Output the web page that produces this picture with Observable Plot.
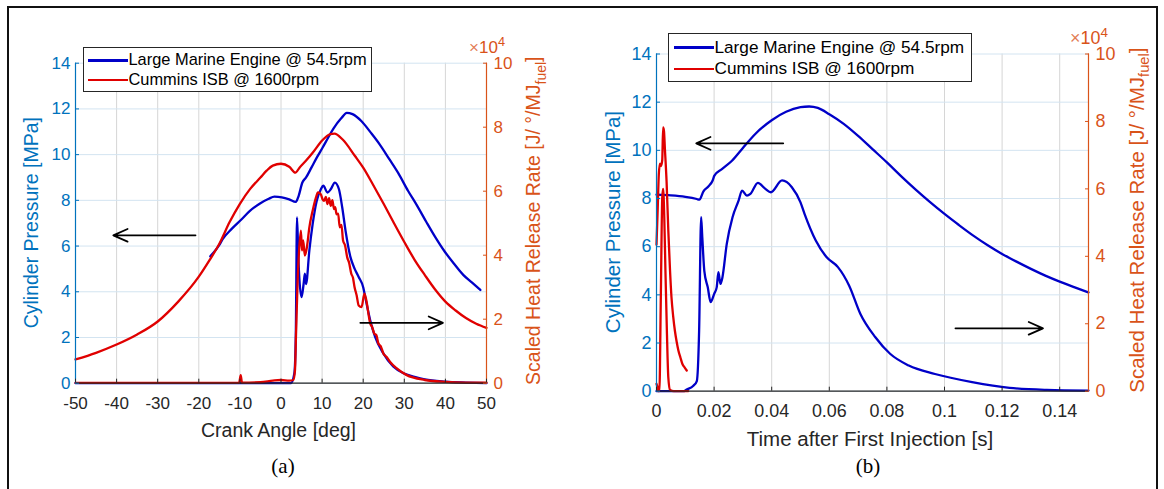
<!DOCTYPE html>
<html>
<head>
<meta charset="utf-8">
<script src="https://cdn.jsdelivr.net/npm/d3@7"></script>
<script src="https://cdn.jsdelivr.net/npm/@observablehq/plot@0.6"></script>
<style>
  html,body{margin:0;padding:0;background:#fff;}
  #wrap{position:relative;width:1164px;height:489px;overflow:hidden;background:#fff;font-family:"Liberation Sans",Arial,Helvetica,sans-serif;}
  #border{position:absolute;left:7px;top:6px;width:1151px;height:540px;border:2px solid #111;box-sizing:border-box;}
  .panel{position:absolute;top:0;}
  .panel svg{display:block;}
  .legend{position:absolute;background:#fff;border:1.5px solid #262626;box-sizing:border-box;color:#000;white-space:nowrap;}
  .legend .row{position:absolute;left:0;height:0;}
  .legend .sw{position:absolute;height:2.6px;top:-1.3px;}
  .legend .lab{position:absolute;top:0;transform:translateY(-52%);line-height:1;}
</style>
</head>
<body>
<div id="wrap"><div id="border"></div></div>
<script>
// ---------------- data ----------------
const seriesNames = ["Large Marine Engine @ 54.5rpm", "Cummins ISB @ 1600rpm"];
const seriesColors = ["#0000c8", "#e00000"];

const crankTicks = [-50, -40, -30, -20, -10, 0, 10, 20, 30, 40, 50];
const timeTicks = [0, 0.02, 0.04, 0.06, 0.08, 0.1, 0.12, 0.14];
const pressureTicks = [0, 2, 4, 6, 8, 10, 12, 14];
const hrrTicks = [0, 2, 4, 6, 8, 10];          // x10^4 J/deg/MJ_fuel
const hrrToMPa = 14 / 10;                      // right axis range mapped onto left axis range

// (a) crank angle [deg] vs pressure [MPa]
const a_marineP = [[-17.2,5.55],[-15,6.05],[-14.2,6.3],[-12,6.75],[-9.7,7.15],[-7.5,7.55],[-5.2,7.85],[-3,8.07],[-1.6,8.16],[0.2,8.13],[2.0,8.04],[3.6,7.93],[4.3,8.2],[5.2,8.78],[6.1,9.0],[7.4,9.43],[8.8,9.9],[10.1,10.3],[11.5,10.75],[12.8,11.15],[14.7,11.6],[16.0,11.83],[17.4,11.77],[19.6,11.46],[21.9,10.95],[24,10.45],[26.4,9.79],[28.5,9.2],[30.9,8.42],[33,7.8],[35.4,7.04],[37.5,6.4],[39.9,5.74],[42,5.25],[44.4,4.73],[46.5,4.4],[48.5,4.08]];
const a_cumminsP = [[-50,1.04],[-45,1.33],[-40,1.69],[-35,2.13],[-30,2.7],[-25,3.57],[-20,4.66],[-17.5,5.35],[-15,6.1],[-12.5,7.05],[-10,7.85],[-7.5,8.5],[-5,9.0],[-3.5,9.3],[-2,9.52],[0,9.6],[2,9.47],[3.5,9.21],[4.5,9.43],[6,9.72],[8,10.15],[10,10.62],[12,10.9],[13,10.92],[15,10.66],[18,9.94],[20,9.43],[22.5,8.65],[25,7.84],[27.5,7.0],[30,6.18],[32.5,5.4],[35,4.73],[37.5,4.1],[40,3.57],[42.5,3.18],[45,2.85],[47.5,2.6],[50,2.42]];
// (a) crank angle [deg] vs heat release rate [x10^4]
const a_marineHRR = [[-50,0],[2.4,0],[3.25,0.31],[3.6,1.5],[3.9,5.18],[4.2,4.0],[4.5,3.21],[5.0,2.69],[5.5,3.1],[5.8,3.42],[6.1,3.1],[6.9,4.15],[7.7,4.97],[8.7,5.7],[9.7,6.06],[10.3,6.17],[11.3,5.96],[12.1,6.06],[13.1,6.27],[14.1,6.06],[14.9,5.49],[15.7,4.77],[16.9,3.94],[17.9,3.58],[18.9,3.32],[20,3.0],[20.5,2.69],[21.7,1.97],[22.9,1.45],[24.9,0.93],[27.3,0.52],[29.8,0.31],[32.5,0.2],[35,0.12],[40,0.05],[45,0.02],[50,0]];
const a_cumminsHRR = [[-50,0.01],[-10.2,0.01],[-9.8,0.25],[-9.5,0.02],[-5,0.03],[-2,0.08],[0,0.1],[2,0.08],[3.0,0.1],[3.4,0.4],[3.65,1.5],[4.05,3.21],[4.45,4.25],[4.85,4.77],[5.1,4.15],[5.4,4.46],[5.8,3.99],[6.3,4.25],[6.9,4.87],[7.7,5.39],[8.5,5.8],[9.0,5.96],[9.7,5.9],[10.1,5.75],[10.5,5.7],[10.9,5.82],[11.3,5.6],[11.7,5.78],[12.1,5.54],[12.5,5.72],[12.9,5.44],[13.2,5.5],[13.5,5.28],[13.9,5.3],[14.3,4.87],[14.7,4.95],[15.1,4.46],[15.6,4.3],[16.1,3.94],[16.6,3.75],[17.1,3.42],[17.5,3.3],[17.9,3.0],[18.4,2.75],[18.9,2.43],[19.6,2.38],[20.3,2.8],[20.9,2.49],[21.3,2.15],[21.7,1.87],[22.2,1.75],[22.7,1.55],[23.2,1.5],[23.7,1.24],[24.3,1.15],[24.9,0.93],[25.7,0.82],[26.5,0.67],[28.1,0.47],[30.5,0.26],[35,0.1],[40,0.04],[45,0.02],[50,0.02]];

// (b) time after first injection [s] vs pressure [MPa]
const b_marineP = [[0,8.16],[0.005,8.13],[0.01,8.07],[0.014,7.98],[0.0149,7.95],[0.0163,8.3],[0.018,8.5],[0.0195,8.75],[0.0201,8.95],[0.0227,9.22],[0.0262,9.57],[0.03,10.1],[0.0343,10.68],[0.04,11.25],[0.045,11.6],[0.05,11.79],[0.053,11.82],[0.056,11.76],[0.06,11.5],[0.065,11.1],[0.07,10.6],[0.075,10.05],[0.08,9.5],[0.085,8.92],[0.09,8.37],[0.095,7.85],[0.1,7.36],[0.105,6.9],[0.11,6.46],[0.115,6.06],[0.12,5.7],[0.125,5.38],[0.13,5.08],[0.135,4.8],[0.14,4.55],[0.145,4.32],[0.15,4.1]];
const b_cumminsP = [[0,6.08],[0.0004,7.5],[0.0008,9.0],[0.0012,9.45],[0.0016,9.35],[0.002,9.6],[0.0023,10.95],[0.0026,10.8],[0.0029,10.1],[0.0035,8.7],[0.0041,6.67],[0.0047,5.0],[0.0052,3.9],[0.0058,3.1],[0.0064,2.5],[0.007,2.05],[0.0076,1.69],[0.0083,1.4],[0.009,1.13],[0.0098,0.98],[0.0105,0.86]];
// (b) time [s] vs heat release rate [x10^4]
const b_marineHRR = [[0,0],[0.0093,0],[0.0105,0.05],[0.0128,0.16],[0.014,0.3],[0.0148,1.8],[0.0155,5.16],[0.0159,4.56],[0.0166,3.57],[0.0178,3.08],[0.0188,2.64],[0.02,2.88],[0.0209,3.08],[0.0215,3.53],[0.0222,3.18],[0.0229,3.38],[0.0244,4.37],[0.0264,5.16],[0.0285,5.65],[0.0297,5.95],[0.0314,5.8],[0.0326,5.85],[0.0352,6.18],[0.0378,6.0],[0.0397,5.9],[0.0436,6.25],[0.047,6.05],[0.05,5.6],[0.0514,5.26],[0.0553,4.47],[0.0591,3.97],[0.063,3.68],[0.0669,3.13],[0.0708,2.29],[0.076,1.6],[0.0811,1.11],[0.0876,0.76],[0.0967,0.51],[0.1096,0.27],[0.1226,0.1],[0.1355,0.04],[0.15,0.02]];
const b_cumminsHRR = [[0,0.22],[0.0004,0.1],[0.0006,0],[0.001,0],[0.0015,2.79],[0.002,5.75],[0.0023,6.0],[0.0027,5.16],[0.0031,3.58],[0.0036,1.8],[0.0041,0.41],[0.0047,0.04],[0.006,0],[0.011,0]];

// arrows [x1, y1(MPa), x2, y2(MPa)]
const a_arrows = [[-20.8,6.47,-40.8,6.47],[19.3,2.64,39.4,2.64]];
const b_arrows = [[0.044,10.29,0.0138,10.29],[0.1038,2.61,0.1342,2.61]];

const xTitles = ["Crank Angle [deg]", "Time after First Injection [s]"];
const panelTags = ["(a)", "(b)"];
const yTitleLeft = "Cylinder Pressure [MPa]";
const yTitleRight = ["Scaled Heat Release Rate [J/ °/MJ", "fuel", "]"];
const expLabel = ["×", "10", "4"];

// ---------------- drawing ----------------
const FONT = '"Liberation Sans", Arial, Helvetica, sans-serif';
const BLUE_AX = "#0072BD", ORANGE_AX = "#D95319", DARK = "#262626";
const wrap = document.getElementById("wrap");

function drawPanel(c) {
  const px = d => d[0];
  const marks = [
    Plot.gridX(c.xTicks, {stroke: "#d6d6d6", strokeOpacity: 1, strokeWidth: 1}),
    Plot.gridY(pressureTicks, {stroke: "#d3e4f1", strokeOpacity: 1, strokeWidth: 1}),
    Plot.line(c.pM, {x: px, y: d => d[1], stroke: seriesColors[0], strokeWidth: 2.3, curve: "monotone-x"}),
    Plot.line(c.pC, {x: px, y: d => d[1], stroke: seriesColors[1], strokeWidth: 2.3, curve: "monotone-x"}),
    Plot.line(c.hM, {x: px, y: d => d[1] * hrrToMPa, stroke: seriesColors[0], strokeWidth: 2.3, curve: "monotone-x"}),
    Plot.line(c.hC, {x: px, y: d => d[1] * hrrToMPa, stroke: seriesColors[1], strokeWidth: 2.3, curve: "monotone-x"}),
    Plot.arrow(c.arrows, {x1: d => d[0], y1: d => d[1], x2: d => d[2], y2: d => d[3], stroke: "#000", strokeWidth: 1.8, headLength: 13, headAngle: 48}),
    // axis lines
    Plot.ruleX([c.xDomain[0]], {stroke: BLUE_AX, strokeWidth: 1.2}),
    Plot.ruleX([c.xDomain[1]], {stroke: ORANGE_AX, strokeWidth: 1.2}),
    Plot.ruleY([0], {stroke: DARK, strokeWidth: 1.2}),
    // x axis
    Plot.axisX(c.xTicks, {tickSize: 0, tickPadding: c.xPad, color: DARK, fontSize: c.fsTick, tickFormat: c.xFmt, label: null}),
    Plot.axisX(c.xTicks, {tickSize: 4, dy: -4, fill: "none", stroke: DARK, label: null}),
    // left y axis
    Plot.axisY(pressureTicks, {anchor: "left", tickSize: 0, tickPadding: 5, color: BLUE_AX, fontSize: c.fsTick, tickFormat: d => String(d), label: null}),
    Plot.axisY(pressureTicks, {anchor: "left", tickSize: 4, dx: 4, fill: "none", stroke: BLUE_AX, label: null}),
    // right y axis
    Plot.axisY(hrrTicks.map(v => v * hrrToMPa), {anchor: "right", tickSize: 0, tickPadding: 7, color: ORANGE_AX, fontSize: c.fsTick, tickFormat: d => String(Math.round(d / hrrToMPa)), label: null}),
    Plot.axisY(hrrTicks.map(v => v * hrrToMPa), {anchor: "right", tickSize: 4, dx: -4, fill: "none", stroke: ORANGE_AX, label: null})
  ];
  const plot = Plot.plot({
    width: c.width, height: c.height,
    marginTop: c.mt, marginRight: c.mr, marginBottom: c.mb, marginLeft: c.ml,
    style: {fontFamily: FONT, background: "transparent", overflow: "visible"},
    x: {type: "linear", domain: c.xDomain},
    y: {type: "linear", domain: [0, 14]},
    marks
  });
  const div = document.createElement("div");
  div.className = "panel";
  div.style.left = c.left + "px";
  div.appendChild(plot);
  wrap.appendChild(div);

  const xr = plot.scale("x").range, yr = plot.scale("y").range;
  const fx0 = Math.min(...xr), fx1 = Math.max(...xr), fy0 = Math.min(...yr), fy1 = Math.max(...yr);
  const svg = d3.select(plot);
  // left title
  svg.append("text")
    .attr("transform", `translate(${fx0 - c.lOff},${(fy0 + fy1) / 2}) rotate(-90)`)
    .attr("text-anchor", "middle").attr("dominant-baseline", "central")
    .attr("fill", BLUE_AX).attr("font-size", c.fsTitle).attr("font-family", FONT)
    .text(yTitleLeft);
  // right title
  const rt = svg.append("text")
    .attr("transform", `translate(${fx1 + c.rOff},${(fy0 + fy1) / 2 - 2}) rotate(-90)`)
    .attr("text-anchor", "middle").attr("dominant-baseline", "central")
    .attr("fill", ORANGE_AX).attr("font-size", c.fsTitle).attr("font-family", FONT);
  rt.append("tspan").text(yTitleRight[0]);
  rt.append("tspan").attr("baseline-shift", "sub").attr("font-size", c.fsTitle * 0.72).text(yTitleRight[1]);
  rt.append("tspan").text(yTitleRight[2]);
  // exponent label
  const ex = svg.append("text")
    .attr("x", fx1 + 1).attr("y", fy0 - 9.5)
    .attr("fill", ORANGE_AX).attr("font-size", c.fsTick).attr("font-family", FONT);
  ex.append("tspan").attr("fill-opacity", 0.75).text(expLabel[0]);
  ex.append("tspan").text(expLabel[1]);
  ex.append("tspan").attr("baseline-shift", "super").attr("font-size", c.fsTick * 0.75).text(expLabel[2]);
  // x title
  svg.append("text")
    .attr("x", (fx0 + fx1) / 2 - 2).attr("y", fy1 + c.xtOff)
    .attr("text-anchor", "middle").attr("dominant-baseline", "central")
    .attr("fill", DARK).attr("font-size", c.fsTitle).attr("font-family", FONT)
    .text(c.xTitle);
  // panel tag
  svg.append("text")
    .attr("x", c.tagX).attr("y", c.tagY)
    .attr("text-anchor", "middle")
    .attr("fill", "#000").attr("font-size", 21).attr("font-family", '"Liberation Serif", "Times New Roman", serif')
    .text(c.tag);

  // legend
  const lg = document.createElement("div");
  lg.className = "legend";
  Object.assign(lg.style, {left: c.lg.left + "px", top: c.lg.top + "px", width: c.lg.w + "px", height: c.lg.h + "px", fontSize: c.lg.fs + "px"});
  seriesNames.forEach((name, i) => {
    const row = document.createElement("div");
    row.className = "row";
    row.style.top = c.lg.rows[i] + "px";
    const sw = document.createElement("div");
    sw.className = "sw";
    Object.assign(sw.style, {left: c.lg.sx0 + "px", width: (c.lg.sx1 - c.lg.sx0) + "px", background: seriesColors[i]});
    const lab = document.createElement("div");
    lab.className = "lab";
    lab.style.left = c.lg.tx + "px";
    lab.textContent = name;
    row.appendChild(sw); row.appendChild(lab);
    lg.appendChild(row);
  });
  wrap.appendChild(lg);
}

drawPanel({
  left: 0, width: 580, height: 489, ml: 75, mr: 94, mt: 62.7, mb: 106.3,
  xDomain: [-50, 50], xTicks: crankTicks, xFmt: d => String(d), xPad: 14,
  pM: a_marineP, pC: a_cumminsP, hM: a_marineHRR, hC: a_cumminsHRR, arrows: a_arrows,
  fsTick: 17, fsTitle: 19.5, lOff: 44, rOff: 47, xtOff: 47,
  xTitle: xTitles[0], tag: panelTags[0], tagX: 283, tagY: 473,
  lg: {left: 83, top: 46.5, w: 289, h: 45, fs: 16.4, rows: [12.8, 32.5], sx0: 4, sx1: 44, tx: 44.5}
});
drawPanel({
  left: 580, width: 584, height: 489, ml: 76, mr: 76, mt: 53.5, mb: 98.3,
  xDomain: [0, 0.15], xTicks: timeTicks, xFmt: d => String(+d.toFixed(2)), xPad: 13.5,
  pM: b_marineP, pC: b_cumminsP, hM: b_marineHRR, hC: b_cumminsHRR, arrows: b_arrows,
  fsTick: 17.9, fsTitle: 20.5, lOff: 44, rOff: 48, xtOff: 47.5,
  xTitle: xTitles[1], tag: panelTags[1], tagX: 288, tagY: 473,
  lg: {left: 668, top: 33.3, w: 304, h: 48.5, fs: 17.2, rows: [13.4, 34.8], sx0: 4.5, sx1: 45, tx: 45.5}
});
</script>
</body>
</html>
